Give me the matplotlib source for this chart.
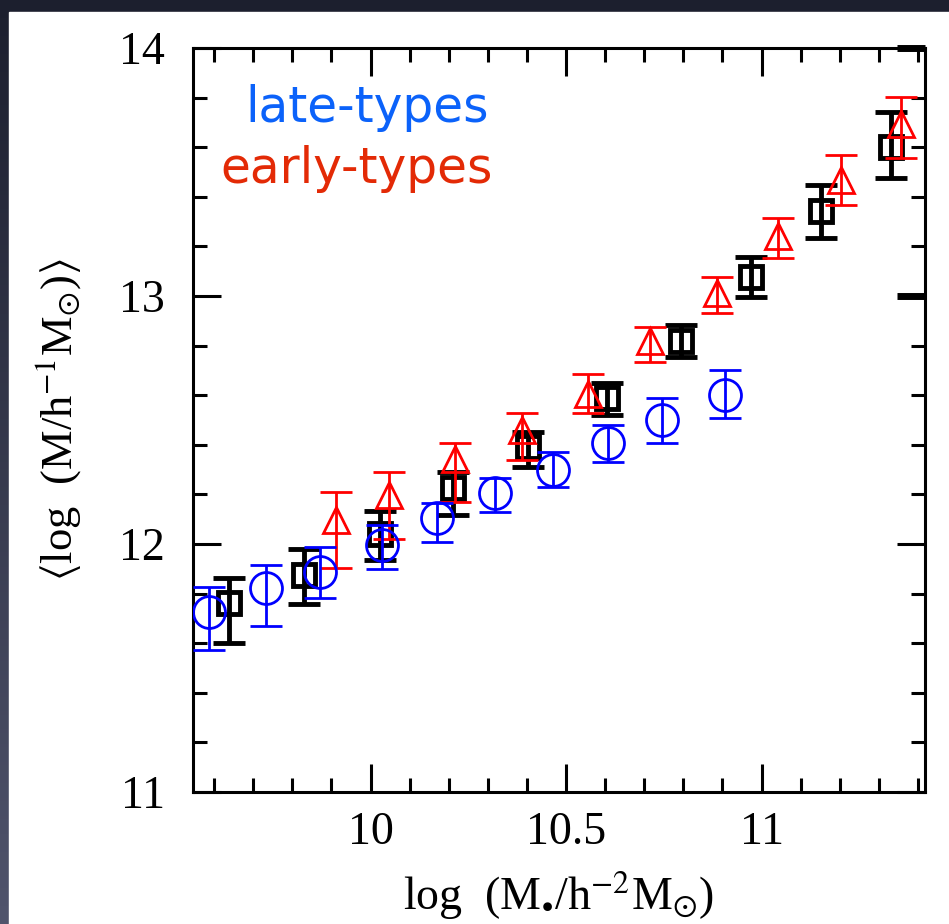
import numpy as np
import matplotlib.pyplot as plt
from matplotlib.patches import Rectangle
from matplotlib.ticker import MultipleLocator

OUTPUT_PATH = "out.png"

# log stellar mass bins and mean log halo mass, with lower/upper errors
late_mstar = [9.587, 9.732, 9.872, 10.030, 10.171, 10.319, 10.467, 10.607, 10.745, 10.906]
late_mhalo = [11.727, 11.823, 11.887, 11.996, 12.105, 12.206, 12.298, 12.407, 12.500, 12.600]
late_err_lo = [0.155, 0.153, 0.105, 0.097, 0.097, 0.077, 0.069, 0.077, 0.093, 0.093]
late_err_hi = [0.100, 0.093, 0.100, 0.080, 0.060, 0.060, 0.073, 0.073, 0.089, 0.100]

all_mstar = [9.638, 9.829, 10.023, 10.212, 10.403, 10.605, 10.795, 10.974, 11.153, 11.332]
all_mhalo = [11.764, 11.875, 12.040, 12.226, 12.391, 12.589, 12.819, 13.077, 13.343, 13.600]
all_err_lo = [0.163, 0.117, 0.105, 0.109, 0.080, 0.069, 0.065, 0.080, 0.109, 0.125]
all_err_hi = [0.099, 0.105, 0.093, 0.065, 0.060, 0.060, 0.065, 0.080, 0.105, 0.140]

early_mstar = [9.911, 10.048, 10.217, 10.387, 10.556, 10.714, 10.885, 11.041, 11.204, 11.357]
early_mhalo = [12.097, 12.198, 12.343, 12.460, 12.605, 12.817, 13.012, 13.242, 13.468, 13.694]
early_err_lo = [0.194, 0.177, 0.173, 0.121, 0.077, 0.083, 0.080, 0.089, 0.100, 0.137]
early_err_hi = [0.113, 0.093, 0.065, 0.069, 0.080, 0.060, 0.065, 0.073, 0.100, 0.110]

plt.rcParams['font.family'] = ['Liberation Serif', 'DejaVu Serif']
plt.rcParams['mathtext.fontset'] = 'stix'


def draw_background(fig):
    # dark slide backdrop with a soft vertical gradient, white panel on top
    bg = fig.add_axes([0, 0, 1, 1], zorder=-10)
    grad = np.linspace(0, 1, 256).reshape(-1, 1)
    top = np.array([0x1c, 0x1f, 0x2e]) / 255
    bottom = np.array([0x50, 0x54, 0x6c]) / 255
    img = top + grad[..., None] * (bottom - top)
    bg.imshow(img, aspect='auto', extent=[0, 1, 0, 1], origin='upper')
    bg.set_axis_off()
    fig.add_artist(Rectangle((9 / 949, 0), 1, 1 - 12 / 924,
                             transform=fig.transFigure, color='white', zorder=-5))


def plot_sample(ax, x, y, lo, hi, **kw):
    ax.errorbar(x, y, yerr=[lo, hi], linestyle='none', **kw)


def main():
    fig = plt.figure(figsize=(9.49, 9.24), dpi=100)
    draw_background(fig)

    ax = fig.add_axes([193 / 949, 1 - 792 / 924, 732 / 949, 744 / 924])

    plot_sample(ax, all_mstar, all_mhalo, all_err_lo, all_err_hi,
                marker='s', ms=16, mfc='none', mec='black', mew=3.5,
                color='black', elinewidth=3.5, capsize=11.5, capthick=3.5, zorder=3)
    plot_sample(ax, early_mstar, early_mhalo, early_err_lo, early_err_hi,
                marker='^', ms=19, mfc='none', mec='red', mew=2,
                color='red', elinewidth=2, capsize=11.5, capthick=2, zorder=4)
    plot_sample(ax, late_mstar, late_mhalo, late_err_lo, late_err_hi,
                marker='o', ms=23, mfc='none', mec='blue', mew=2,
                color='blue', elinewidth=2, capsize=11.5, capthick=2, zorder=5)

    ax.set_xlim(9.546, 11.418)
    ax.set_ylim(11, 14)
    ax.xaxis.set_major_locator(MultipleLocator(0.5))
    ax.xaxis.set_minor_locator(MultipleLocator(0.1))
    ax.yaxis.set_major_locator(MultipleLocator(1))
    ax.yaxis.set_minor_locator(MultipleLocator(0.2))
    ax.xaxis.set_major_formatter(plt.FuncFormatter(lambda v, p: f"{v:g}"))

    ax.tick_params(which='both', direction='in', top=True, right=True,
                   labelsize=33, width=2.2)
    ax.tick_params(which='major', length=20)
    ax.tick_params(which='minor', length=10)
    ax.tick_params(axis='x', which='major', pad=14)
    ax.tick_params(axis='y', which='major', pad=20)
    # heavier right-hand ticks at 13 and 14
    for tick, val in zip(ax.yaxis.get_major_ticks(), ax.get_yticks()):
        if val >= 13:
            tick.tick2line.set_markeredgewidth(5)
    for spine in ax.spines.values():
        spine.set_linewidth(2.2)

    ax.set_xlabel(r'log  (M$_{\bullet}$/h$^{-2}$M$_{\odot}$)', fontsize=33)
    ax.set_ylabel(r'$\langle$log  (M/h$^{-1}$M$_{\odot}$)$\rangle$', fontsize=32)
    ax.xaxis.set_label_coords(0.5, -0.105)
    ax.yaxis.set_label_coords(-0.150, 0.5)

    ax.text(0.071, 0.9005, 'late-types', transform=ax.transAxes, color='#0b62fa',
            fontsize=35, family='DejaVu Sans', va='baseline')
    ax.text(0.037, 0.8185, 'early-types', transform=ax.transAxes, color='#e32a06',
            fontsize=35, family='DejaVu Sans', va='baseline')

    fig.savefig(OUTPUT_PATH, dpi=100)


if __name__ == "__main__":
    main()
